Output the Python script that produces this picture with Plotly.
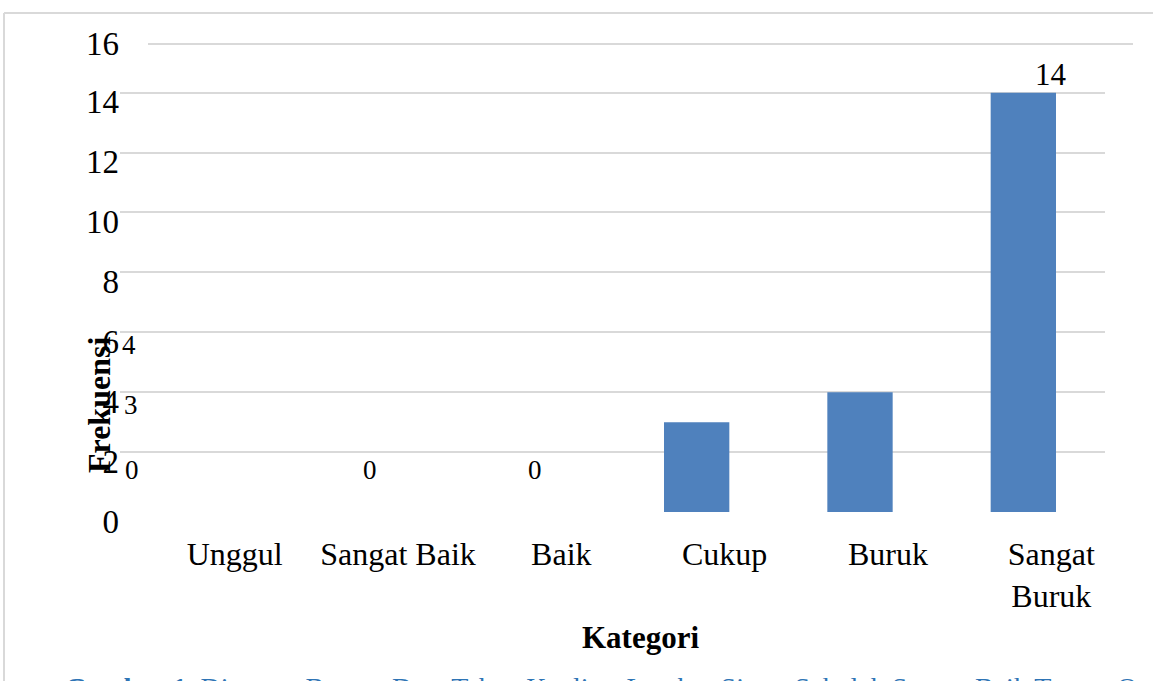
import plotly.graph_objects as go

categories = ["Unggul", "Sangat Baik", "Baik", "Cukup", "Buruk", "Sangat Buruk"]
tick_labels = ["Unggul", "Sangat Baik", "Baik", "Cukup", "Buruk", "Sangat<br>Buruk"]
frekuensi = [0, 0, 0, 3, 4, 14]
y_ticks = [0, 2, 4, 6, 8, 10, 12, 14]
y_top_label = "16"
x_title = "Kategori"
y_title = "Frekuensi"
caption_bold = "Gambar 1."
caption_rest = " Diagram Batang Data Tahap Kualitas Lembar Siswa Sekolah Sangat Baik Tampa Ot"

W, H = 1153, 681
L, R, T, B = 120, 48, 44, 169
PW, PH = W - L - R, H - T - B

def px(x):
    return (x - L) / PW

def py(y):
    return (H - B - y) / PH

SERIF = "Liberation Serif"
GRID = "#d9d9d9"

fig = go.Figure()
fig.add_trace(go.Bar(
    x=categories, y=frekuensi, width=0.40,
    marker=dict(color="#4f81bd", line=dict(width=0)),
    hoverinfo="x+y", showlegend=False,
))

# data label placement (pixel shifts, imitating the reference)
label_shift = [(-75, 42), (0, 42), (2, 42), (-566, 17), (-731, 47), (28, 18)]
label_size = [27, 27, 27, 27, 27, 31]
for c, v, (dx, dy), fs in zip(categories, frekuensi, label_shift, label_size):
    fig.add_annotation(x=c, y=v, text=str(v), showarrow=False,
                       xshift=dx, yshift=dy, xanchor="center", yanchor="middle",
                       font=dict(family=SERIF, size=fs, color="#000"))

# extra top gridline + label (16)
fig.add_shape(type="line", xref="paper", yref="paper", x0=px(148), x1=px(1133),
              y0=1, y1=1, line=dict(color=GRID, width=2))
fig.add_annotation(xref="paper", yref="paper", x=px(121), y=1, text=y_top_label,
                   showarrow=False, xanchor="right", yanchor="middle",
                   font=dict(family=SERIF, size=33, color="#000"))

# document frame
fig.add_shape(type="line", xref="paper", yref="paper", x0=px(4), x1=px(1153),
              y0=py(13), y1=py(13), line=dict(color=GRID, width=2))
fig.add_shape(type="line", xref="paper", yref="paper", x0=px(4), x1=px(4),
              y0=py(13), y1=py(690), line=dict(color=GRID, width=2))

# axis titles
fig.add_annotation(xref="paper", yref="paper", x=px(640), y=py(637), text=f"<b>{x_title}</b>",
                   showarrow=False, xanchor="center", yanchor="middle",
                   font=dict(family=SERIF, size=31, color="#000"))
fig.add_annotation(xref="paper", yref="paper", x=px(99), y=py(405), text=f"<b>{y_title}</b>",
                   showarrow=False, textangle=-90, xanchor="center", yanchor="middle",
                   font=dict(family=SERIF, size=32, color="#000"))

# caption (cut off by page edge, as in the reference)
fig.add_annotation(xref="paper", yref="paper", x=px(63), y=py(670), xanchor="left", yanchor="top",
                   text=f"<b>{caption_bold}</b>{caption_rest}", showarrow=False,
                   font=dict(family=SERIF, size=28, color="#2e74b5"))

fig.update_layout(
    width=W, height=H,
    margin=dict(l=L, r=R, t=T, b=B),
    paper_bgcolor="white", plot_bgcolor="white",
    bargap=0.6,
    xaxis=dict(
        tickvals=categories, ticktext=tick_labels,
        showgrid=False, zeroline=False, showline=False, ticks="",
        tickfont=dict(family=SERIF, size=32, color="#000"),
        ticklabelshift=28, ticklabelstandoff=20,
        fixedrange=True,
    ),
    yaxis=dict(
        range=[0, 468.3 / 29.97], tickvals=y_ticks,
        showgrid=True, gridcolor=GRID, gridwidth=2,
        zeroline=False, showline=False, ticks="",
        tickfont=dict(family=SERIF, size=33, color="#000"),
        ticklabelstandoff=0, ticklabelshift=9,
        fixedrange=True,
    ),
)

fig.write_html("out.html", config={"displayModeBar": False},
               post_script="document.body.style.margin='0';")
